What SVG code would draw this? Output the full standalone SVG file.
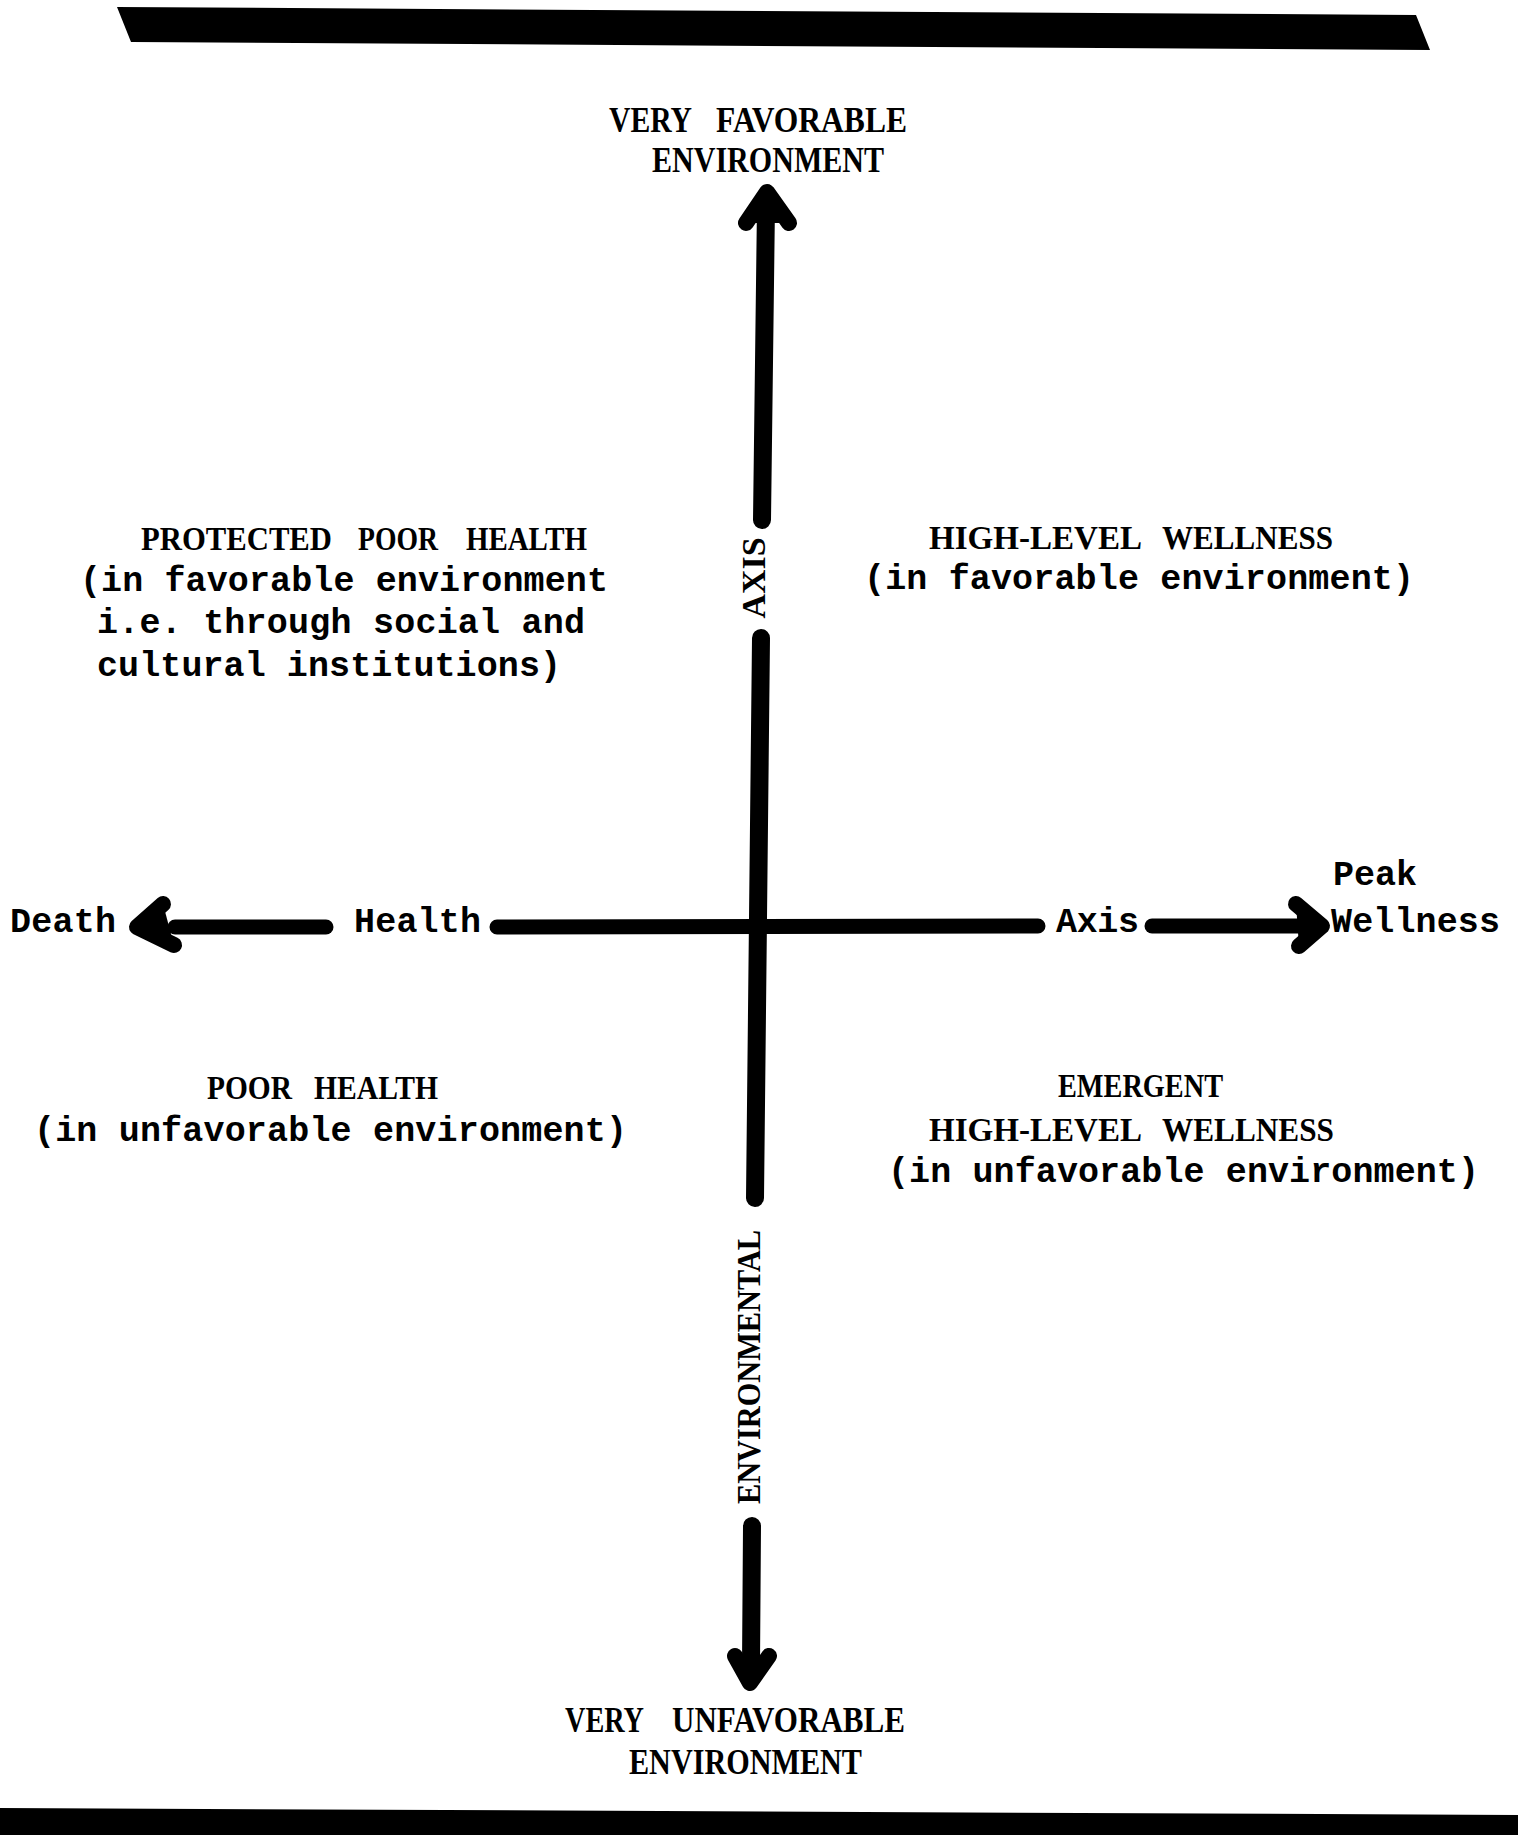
<svg xmlns="http://www.w3.org/2000/svg" width="1518" height="1835" viewBox="0 0 1518 1835">
<style>
.cap{font-family:"Liberation Serif","DejaVu Serif",serif;font-weight:bold;fill:#000}
.mono{font-family:"Liberation Mono","DejaVu Sans Mono",monospace;font-weight:bold;font-size:35px;fill:#000}
.shaft{stroke:#000;fill:none;stroke-linecap:round}
.head{stroke:#000;fill:#000;stroke-width:16;stroke-linecap:round;stroke-linejoin:round}
</style>
<rect width="1518" height="1835" fill="#fff"/>
<g id="frame">
<polygon points="117,7 1416,15 1430,50 131,42" fill="#000"/>
<polygon points="0,1808 1518,1815 1518,1835 0,1835" fill="#000"/>
</g>
<g id="connectors">
<line class="shaft" x1="766" y1="205" x2="762" y2="520" stroke-width="18"/>
<line class="shaft" x1="761" y1="638" x2="755" y2="1198" stroke-width="18"/>
<line class="shaft" x1="752" y1="1526" x2="751" y2="1665" stroke-width="18"/>
<polyline class="head" points="746,223 767,192 789,223"/>
<polyline class="head" points="735,1656 750,1683 769,1656"/>
<line class="shaft" x1="175" y1="927" x2="326" y2="927" stroke-width="15"/>
<line class="shaft" x1="497" y1="927" x2="1038" y2="926" stroke-width="15"/>
<line class="shaft" x1="1152" y1="926" x2="1305" y2="926" stroke-width="15"/>
<polyline class="head" points="163,904 137,927 174,945"/>
<polyline class="head" points="1296,904 1322,926 1299,946"/>
</g>
<g id="axis-labels">
<text class="cap" font-size="33" transform="translate(765,578) rotate(-90)" text-anchor="middle" textLength="81" lengthAdjust="spacingAndGlyphs">AXIS</text>
<text class="cap" font-size="33" transform="translate(760,1367) rotate(-90)" text-anchor="middle" textLength="274" lengthAdjust="spacingAndGlyphs">ENVIRONMENTAL</text>
</g>
<g id="top-pole">
<text class="cap" font-size="36" x="609" y="132" textLength="83" lengthAdjust="spacingAndGlyphs">VERY</text>
<text class="cap" font-size="36" x="716" y="132" textLength="191" lengthAdjust="spacingAndGlyphs">FAVORABLE</text>
<text class="cap" font-size="36" x="652" y="172" textLength="232" lengthAdjust="spacingAndGlyphs">ENVIRONMENT</text>
</g>
<g id="bottom-pole">
<text class="cap" font-size="35" x="565" y="1732" textLength="79" lengthAdjust="spacingAndGlyphs">VERY</text>
<text class="cap" font-size="35" x="672" y="1732" textLength="233" lengthAdjust="spacingAndGlyphs">UNFAVORABLE</text>
<text class="cap" font-size="35" x="629" y="1774" textLength="233" lengthAdjust="spacingAndGlyphs">ENVIRONMENT</text>
</g>
<g id="death">
<text class="mono" x="10" y="932" textLength="106">Death</text>
</g>
<g id="health-label">
<text class="mono" x="354" y="932" textLength="127">Health</text>
</g>
<g id="axis-label">
<text class="mono" x="1056" y="932" textLength="83">Axis</text>
</g>
<g id="peak-wellness">
<text class="mono" x="1333" y="885" textLength="84">Peak</text>
<text class="mono" x="1331" y="932" textLength="169">Wellness</text>
</g>
<g id="protected-poor-health">
<text class="cap" font-size="33" x="141" y="550" textLength="191" lengthAdjust="spacingAndGlyphs">PROTECTED</text>
<text class="cap" font-size="33" x="358" y="550" textLength="80" lengthAdjust="spacingAndGlyphs">POOR</text>
<text class="cap" font-size="33" x="466" y="550" textLength="121" lengthAdjust="spacingAndGlyphs">HEALTH</text>
<text class="mono" x="80" y="591" textLength="528">(in favorable environment</text>
<text class="mono" x="97" y="633" textLength="488">i.e. through social and</text>
<text class="mono" x="97" y="676" textLength="464">cultural institutions)</text>
</g>
<g id="high-level-wellness">
<text class="cap" font-size="33" x="929" y="549" textLength="213" lengthAdjust="spacingAndGlyphs">HIGH-LEVEL</text>
<text class="cap" font-size="33" x="1162" y="549" textLength="171" lengthAdjust="spacingAndGlyphs">WELLNESS</text>
<text class="mono" x="864" y="589" textLength="550">(in favorable environment)</text>
</g>
<g id="poor-health">
<text class="cap" font-size="33" x="207" y="1099" textLength="85" lengthAdjust="spacingAndGlyphs">POOR</text>
<text class="cap" font-size="33" x="314" y="1099" textLength="124" lengthAdjust="spacingAndGlyphs">HEALTH</text>
<text class="mono" x="34" y="1141" textLength="593">(in unfavorable environment)</text>
</g>
<g id="emergent-wellness">
<text class="cap" font-size="33" x="1058" y="1097" textLength="165" lengthAdjust="spacingAndGlyphs">EMERGENT</text>
<text class="cap" font-size="33" x="929" y="1141" textLength="213" lengthAdjust="spacingAndGlyphs">HIGH-LEVEL</text>
<text class="cap" font-size="33" x="1162" y="1141" textLength="172" lengthAdjust="spacingAndGlyphs">WELLNESS</text>
<text class="mono" x="888" y="1182" textLength="591">(in unfavorable environment)</text>
</g>
</svg>
